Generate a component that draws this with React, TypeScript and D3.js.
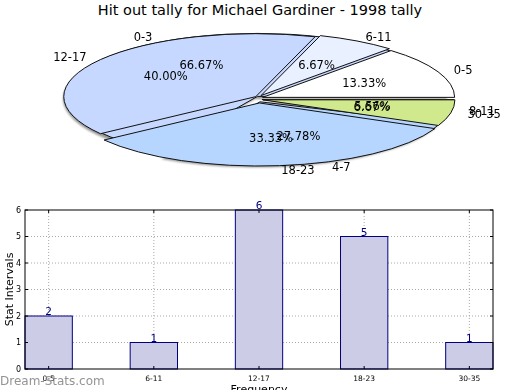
import * as d3 from 'd3';
import React from 'react';

// pie 1: 1998 stat intervals
const pieALabels = ['0-5', '6-11', '12-17', '18-23', '30-35'];
const pieAValues = [2, 1, 6, 5, 1];
const pieAColors = ['#ffffff', '#e9f0ff', '#c6d8ff', '#b6d6ff', '#d0e98c'];
// pie 2: second tally
const pieBLabels = ['0-3', '4-7', '8-11'];
const pieBValues = [12, 5, 1];
const pieBColors = ['#c6d8ff', '#b6d6ff', '#d0e98c'];

// bar chart
const barCats = ['0-5', '6-11', '12-17', '18-23', '30-35'];
const barVals = [2, 1, 6, 5, 1];
const yTicks = [0, 1, 2, 3, 4, 5, 6];

const W = 520;
const H = 390;
const FONT = 'DejaVu Sans, sans-serif';

const cx = 259;
const cy = 99;
const rx = 192;
const ry = 63;

const makePie = () => d3.pie<number>().sort(null).startAngle(Math.PI / 2).endAngle(Math.PI / 2 - 2 * Math.PI);

function Pie(props: any) {
  const { values, colors, explode, showShadow } = props;
  const arcs = makePie()(values);
  const arc = d3.arc<any>().innerRadius(0).outerRadius(1);

  return (
    <g>
      {showShadow && (
        <g filter="url(#blur)" opacity={0.7}>
          {arcs.map((a, i) => {
            const mid = (a.startAngle + a.endAngle) / 2;
            const dx = Math.sin(mid) * explode - 2.5;
            const dy = -Math.cos(mid) * explode + 2.5;
            return (
              <path key={'s' + i} d={arc(a) as string}
                transform={`translate(${cx + dx},${cy + dy}) scale(${rx},${ry})`}
                fill="#666" />
            );
          })}
        </g>
      )}
      {arcs.map((a, i) => {
        const mid = (a.startAngle + a.endAngle) / 2;
        const dx = Math.sin(mid) * explode;
        const dy = -Math.cos(mid) * explode;
        return (
          <path key={i} d={arc(a) as string}
            transform={`translate(${cx + dx},${cy + dy}) scale(${rx},${ry})`}
            fill={colors[i]} stroke="#111" strokeWidth={1}
            vectorEffect="non-scaling-stroke" strokeLinejoin="round" />
        );
      })}
    </g>
  );
}

function PieLabels(props: any) {
  const { labels, values } = props;
  const arcs = makePie()(values);
  const total = d3.sum(values);
  return (
    <g fontFamily={FONT} fontSize={11.5} fill="#000">
      {arcs.map((a, i) => {
        const mid = (a.startAngle + a.endAngle) / 2;
        const sx = Math.sin(mid);
        const sy = -Math.cos(mid);
        const lx = cx + sx * rx * 1.11;
        const ly = cy + sy * ry * 1.14;
        const px = cx + sx * rx * 0.6;
        const py = cy + sy * ry * 0.62;
        return (
          <g key={i}>
            <text x={lx} y={ly} dy="0.35em" textAnchor={sx >= 0 ? 'start' : 'end'}>{labels[i]}</text>
            <text x={px} y={py} dy="0.35em" textAnchor="middle">{(values[i] / total * 100).toFixed(2)}%</text>
          </g>
        );
      })}
    </g>
  );
}

function BarChart() {
  const left = 25, right = 493, top = 210, bottom = 369;
  const x = d3.scaleLinear().domain([-0.225, barCats.length - 1 + 0.225]).range([left, right]);
  const y = d3.scaleLinear().domain([0, 6]).range([bottom, top]);
  const bw = x(0.45) - x(0);

  return (
    <g fontFamily={FONT}>
      {/* grid */}
      {yTicks.slice(1, -1).map(t => (
        <line key={'gy' + t} x1={left} x2={right} y1={y(t)} y2={y(t)} stroke="#aaa" strokeDasharray="1,2" />
      ))}
      {barCats.map((c, i) => (
        <line key={'gx' + i} x1={x(i)} x2={x(i)} y1={top} y2={bottom} stroke="#aaa" strokeDasharray="1,2" />
      ))}
      {/* bars */}
      {barVals.map((v, i) => (
        <rect key={'b' + i} x={x(i) - bw / 2} y={y(v)} width={bw} height={bottom - y(v)}
          fill="#cccce6" stroke="#000080" strokeWidth={1} />
      ))}
      {/* ticks */}
      {yTicks.map(t => (
        <g key={'ty' + t}>
          <line x1={left} x2={left + 3} y1={y(t)} y2={y(t)} stroke="#000" />
          <line x1={right - 3} x2={right} y1={y(t)} y2={y(t)} stroke="#000" />
          <text x={left - 4} y={y(t)} dy="0.35em" textAnchor="end" fontSize={8}>{t}</text>
        </g>
      ))}
      {barCats.map((c, i) => (
        <g key={'tx' + i}>
          <line x1={x(i)} x2={x(i)} y1={bottom} y2={bottom - 3} stroke="#000" />
          <line x1={x(i)} x2={x(i)} y1={top} y2={top + 3} stroke="#000" />
          <text x={x(i)} y={bottom + 9} dy="0.35em" textAnchor="middle" fontSize={7.5}>{c}</text>
        </g>
      ))}
      {/* values */}
      {barVals.map((v, i) => (
        <text key={'v' + i} x={x(i)} y={y(v) - 1} textAnchor="middle" fontSize={10.5} fill="#000080">{v}</text>
      ))}
      <rect x={left} y={top} width={right - left} height={bottom - top} fill="none" stroke="#000" />
      <text transform={`translate(13,${(top + bottom) / 2}) rotate(-90)`} textAnchor="middle" fontSize={11}>Stat Intervals</text>
      <text x={(left + right) / 2} y={393} textAnchor="middle" fontSize={11}>Frequency</text>
    </g>
  );
}

export default function App() {
  return (
    <svg width={W} height={H} style={{ display: 'block', position: 'absolute', left: 0, top: 0 }}>
      <defs>
        <filter id="blur" x="-5%" y="-10%" width="110%" height="120%">
          <feGaussianBlur stdDeviation="1.2" />
        </filter>
      </defs>
      <rect width={W} height={H} fill="#fff" />
      <text x={260} y={15} textAnchor="middle" fontFamily={FONT} fontSize={14.5}>Hit out tally for Michael Gardiner - 1998 tally</text>
      <Pie values={pieBValues} colors={pieBColors} explode={3} showShadow={true} />
      <Pie values={pieAValues} colors={pieAColors} explode={4} showShadow={false} />
      <PieLabels labels={pieALabels} values={pieAValues} />
      <PieLabels labels={pieBLabels} values={pieBValues} />
      <BarChart />
      <text x={0} y={385} fontFamily={FONT} fontSize={12} fill="#888" opacity={0.9}>Dream-Stats.com</text>
    </svg>
  );
}
